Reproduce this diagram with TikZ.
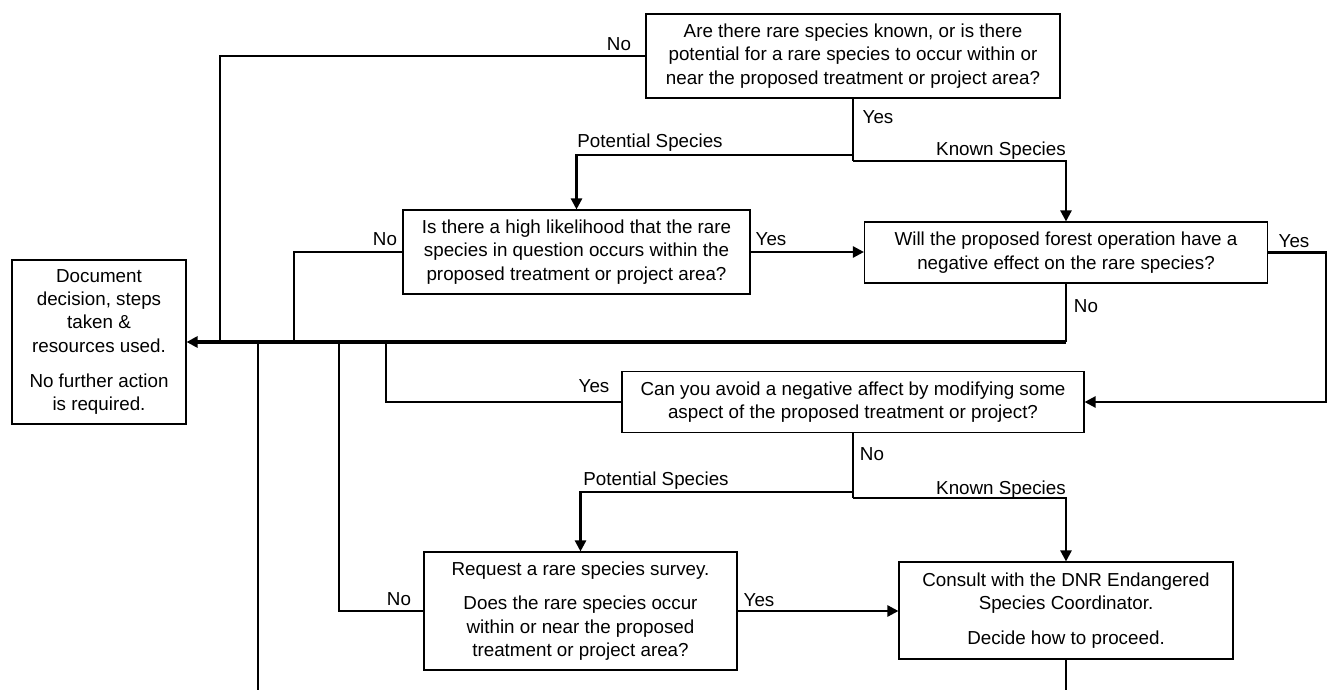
\documentclass[tikz,border=0pt]{standalone}
\usepackage{fontspec}
\setmainfont{Liberation Sans}
\usetikzlibrary{arrows.meta}
\begin{document}
\begin{tikzpicture}[x=1pt,y=-1pt,
  txt/.style={font=\fontsize{18.8}{23.3}\selectfont},
  box/.style={draw, line width=1.1pt, align=center, inner sep=0pt, txt},
  lab/.style={txt, inner sep=0pt, anchor=base},
  conn/.style={line width=2.4pt},
  thinconn/.style={line width=1.8pt},
  mainconn/.style={line width=3.4pt},
  arr/.style={-{Triangle[length=11pt,width=11pt]}}
]
\useasboundingbox (0,0) rectangle (1327,690);

% boxes
\node[box, minimum width=414pt, minimum height=84pt] (q1) at (853,56)
  {Are there rare species known, or is there\\potential for a rare species to occur within or\\near the proposed treatment or project area?};
\node[box, minimum width=174pt, minimum height=164pt] (doc) at (99,342)
  {Document\\decision, steps\\taken \&\\resources used.\\[12pt]No further action\\is required.};
\node[box, minimum width=347pt, minimum height=84pt] (q2) at (576.5,252)
  {Is there a high likelihood that the rare\\species in question occurs within the\\proposed treatment or project area?};
\node[box, minimum width=403pt, minimum height=61pt] (q3) at (1066,252.5)
  {Will the proposed forest operation have a\\negative effect on the rare species?};
\node[box, minimum width=462pt, minimum height=61pt] (q4) at (853,402)
  {Can you avoid a negative affect by modifying some\\aspect of the proposed treatment or project?};
\node[box, minimum width=313pt, minimum height=118pt] (q5) at (580.5,611)
  {Request a rare species survey.\\[11pt]Does the rare species occur\\within or near the proposed\\treatment or project area?};
\node[box, minimum width=334pt, minimum height=97pt] (q6) at (1066,610.5)
  {Consult with the DNR Endangered\\Species Coordinator.\\[12pt]Decide how to proceed.};

% junction coordinates
\coordinate (m1) at (220,342);
\coordinate (m2) at (294,342);
\coordinate (m4) at (386,342);
\coordinate (m5) at (339,342);
\coordinate (m0) at (258,342);
\coordinate (j3) at (1066,342);
\coordinate (b1p) at (853,155);
\coordinate (b1k) at (853,161);
\coordinate (r1) at (1326,402);
\coordinate (b4p) at (853,492);
\coordinate (b4k) at (853,498);
\coordinate (e0) at (258,690);
\coordinate (e6) at (1066,690);

% connectors
\draw[thinconn] (q1.west) -| (m1);
\draw[conn] (q1.south) -- (b1k);
\draw[conn,arr] (b1p) -| (q2.north);
\draw[conn,arr] (b1k) -| (q3.north);
\draw[conn,arr] (q2.east) -- (q2.east -| q3.west);
\draw[conn] (q2.west) -| (m2);
\draw[conn,arr] (q3.east) -| (r1) -- (q4.east);
\draw[conn] (q3.south) -- (j3);
\draw[mainconn,arr] (j3) -- (doc.east);
\draw[conn] (q4.west) -| (m4);
\draw[conn] (q4.south) -- (b4k);
\draw[conn,arr] (b4p) -| (q5.north);
\draw[conn,arr] (b4k) -| (q6.north);
\draw[conn,arr] (q5.east) -- (q5.east -| q6.west);
\draw[thinconn] (q5.west) -| (m5);
\draw[thinconn] (m0) -- (e0);
\draw[conn] (q6.south) -- (e6);

% labels
\node[lab] (l1) at (619,51) {No};
\node[lab] (l2) at (878,124) {Yes};
\node[lab] (l3) at (650,147) {Potential Species};
\node[lab] (l4) at (1001,155) {Known Species};
\node[lab] (l5) at (771,245) {Yes};
\node[lab] (l6) at (385,245) {No};
\node[lab] (l7) at (1294,247) {Yes};
\node[lab] (l8) at (1086,312) {No};
\node[lab] (l9) at (594,392) {Yes};
\node[lab] (l10) at (872,460) {No};
\node[lab] (l11) at (656,485) {Potential Species};
\node[lab] (l12) at (1001,494) {Known Species};
\node[lab] (l13) at (399,605) {No};
\node[lab] (l14) at (759,606) {Yes};
\end{tikzpicture}
\end{document}
